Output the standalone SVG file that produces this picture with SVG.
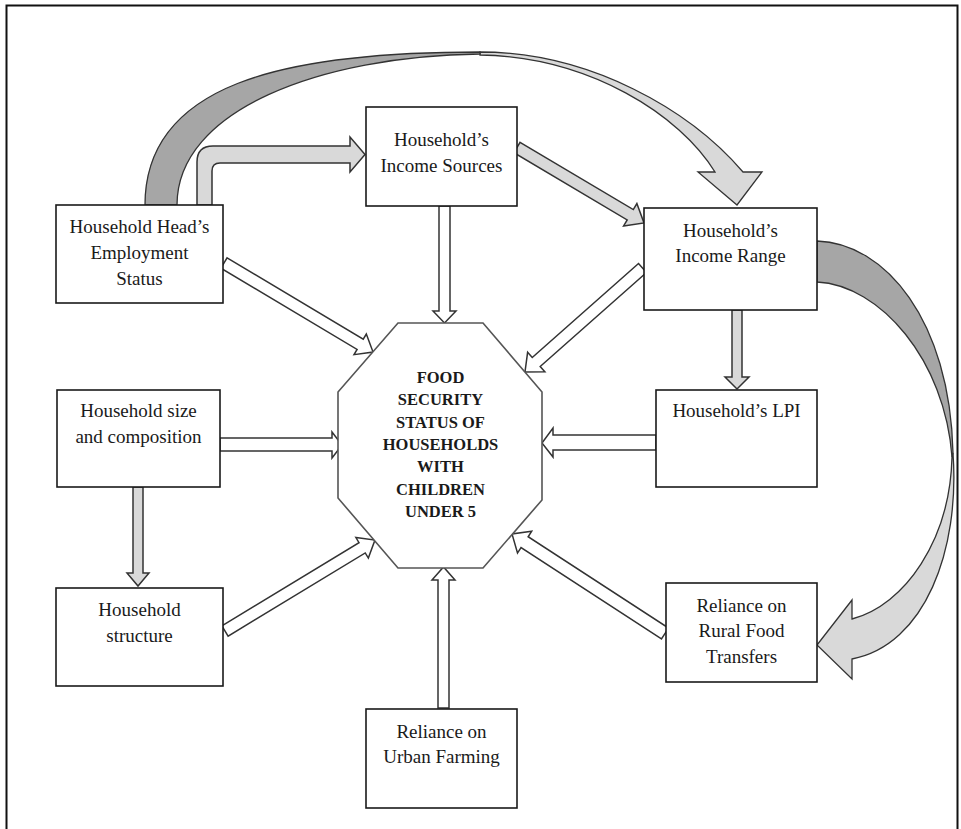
<svg xmlns="http://www.w3.org/2000/svg" width="961" height="829" viewBox="0 0 961 829">
<style>
.box{fill:#fff;stroke:#1a1a1a;stroke-width:1.6}
.t{font-family:"Liberation Serif","Times New Roman",serif;font-size:19px;fill:#1a1a1a;text-anchor:middle}
.tb{font-family:"Liberation Serif","Times New Roman",serif;font-size:16.5px;font-weight:bold;fill:#1a1a1a;text-anchor:middle}
.wa{fill:#fff;stroke:#333;stroke-width:1.5;stroke-linejoin:miter}
.ga{fill:#d9d9d9;stroke:#333;stroke-width:1.5}
.da{fill:#a6a6a6;stroke:#333;stroke-width:1.3}
.la{fill:#d9d9d9;stroke:#333;stroke-width:1.3}
</style>
<rect width="961" height="829" fill="#fff"/>
<path d="M6.5,829 V5.5 H957.5 V829" fill="none" stroke="#111" stroke-width="2"/>

<g id="connectors">
  <!-- big top curved arrow: Employment -> Income Range -->
  <path class="la" d="M480,52 C590,52 690,110 743,172 L762,172 L737,205 L698,172 L715,172 C680,115 590,57 480,55 Z"/>
  <path class="da" d="M145,205 C145,85 280,52 480,52 L480,54 C320,56 177,110 177,205 Z"/>
  <!-- right curved arrow: Income Range -> Rural Food Transfers -->
  <path class="da" d="M817,241 C885,243 950,320 953,453 L952,457 C945,360 880,285 817,282 Z"/>
  <path class="la" d="M953,453 C960,550 925,645 852,659 L852,679 L817,645 L852,600 L852,619 C905,605 950,540 952,457 Z"/>
  <!-- elbow arrow: Employment -> Income Sources -->
  <path class="ga" d="M197,205 L197,162 Q197,146 213,146 L350,146 L350,137 L365,154.5 L350,172 L350,163 L220,163 Q212,163 212,171 L212,205 Z"/>
  <!-- Income Sources -> Income Range -->
  <path class="ga" d="M0,-6 H131.7 V-13 L147.7,0 L131.7,13 V6 H0 Z" transform="translate(517,147.5) rotate(30.7)"/>
  <!-- Income Range -> LPI -->
  <path class="ga" d="M732,310 V377 H725 L737,389 L749,377 H742 V310 Z"/>
  <!-- Size -> Structure -->
  <path class="ga" d="M133,487 V573 H127 L138,586 L149,573 H143 V487 Z"/>
  <!-- arrows into octagon -->
  <path class="wa" d="M0,-6 H158.6 V-12 L173.6,0 L158.6,12 V6 H0 Z" transform="translate(224,263) rotate(30.85)"/>
  <path class="wa" d="M439,206 V311 H433 L444.5,323 L456,311 H450 V206 Z"/>
  <path class="wa" d="M0,-6 H141.9 V-13 L156.9,0 L141.9,13 V6 H0 Z" transform="translate(642.5,268) rotate(138.5)"/>
  <path class="wa" d="M220,438 H332 V432 L342,445 L332,458 V451 H220 Z"/>
  <path class="wa" d="M656,435 H553 V428 L542,443 L553,457 V450 H656 Z"/>
  <path class="wa" d="M0,-6 H160.4 V-12 L175.4,0 L160.4,12 V6 H0 Z" transform="translate(225,631) rotate(-31.25)"/>
  <path class="wa" d="M0,-6.5 H167.5 V-13 L182.5,0 L167.5,13 V6.5 H0 Z" transform="translate(665,633.5) rotate(-146.96)"/>
  <path class="wa" d="M438,708 V580 H432 L443.5,567 L455,580 H449 V708 Z"/>
</g>

<g id="food-security">
  <polygon points="398,323 483,323 542,392 542,500 483,568 398,568 338,498 338,392" fill="#fff" stroke="#555" stroke-width="1.6"/>
  <text class="tb" x="440.5" y="383">FOOD</text>
  <text class="tb" x="440.5" y="405.3">SECURITY</text>
  <text class="tb" x="440.5" y="427.6">STATUS OF</text>
  <text class="tb" x="440.5" y="449.9">HOUSEHOLDS</text>
  <text class="tb" x="440.5" y="472.2">WITH</text>
  <text class="tb" x="440.5" y="494.5">CHILDREN</text>
  <text class="tb" x="440.5" y="516.8">UNDER 5</text>
</g>

<g id="employment">
  <rect class="box" x="56" y="205" width="167" height="98"/>
  <text class="t" x="139.5" y="233">Household Head’s</text>
  <text class="t" x="139.5" y="259">Employment</text>
  <text class="t" x="139.5" y="285">Status</text>
</g>
<g id="income-sources">
  <rect class="box" x="366" y="107" width="151" height="99" stroke-width="2"/>
  <text class="t" x="441.5" y="146">Household’s</text>
  <text class="t" x="441.5" y="172">Income Sources</text>
</g>
<g id="income-range">
  <rect class="box" x="644" y="208" width="173" height="102"/>
  <text class="t" x="730.5" y="237">Household’s</text>
  <text class="t" x="730.5" y="262">Income Range</text>
</g>
<g id="size">
  <rect class="box" x="57" y="390" width="163" height="97" stroke-width="2"/>
  <text class="t" x="138.5" y="417">Household size</text>
  <text class="t" x="138.5" y="443">and composition</text>
</g>
<g id="lpi">
  <rect class="box" x="656" y="390" width="161" height="97"/>
  <text class="t" x="736.5" y="417">Household’s LPI</text>
</g>
<g id="structure">
  <rect class="box" x="56" y="588" width="167" height="98"/>
  <text class="t" x="139.5" y="616">Household</text>
  <text class="t" x="139.5" y="642">structure</text>
</g>
<g id="rural">
  <rect class="box" x="666" y="583" width="151" height="99"/>
  <text class="t" x="741.5" y="612">Reliance on</text>
  <text class="t" x="741.5" y="637">Rural Food</text>
  <text class="t" x="741.5" y="663">Transfers</text>
</g>
<g id="urban">
  <rect class="box" x="366" y="709" width="151" height="99"/>
  <text class="t" x="441.5" y="738">Reliance on</text>
  <text class="t" x="441.5" y="763">Urban Farming</text>
</g>
</svg>
